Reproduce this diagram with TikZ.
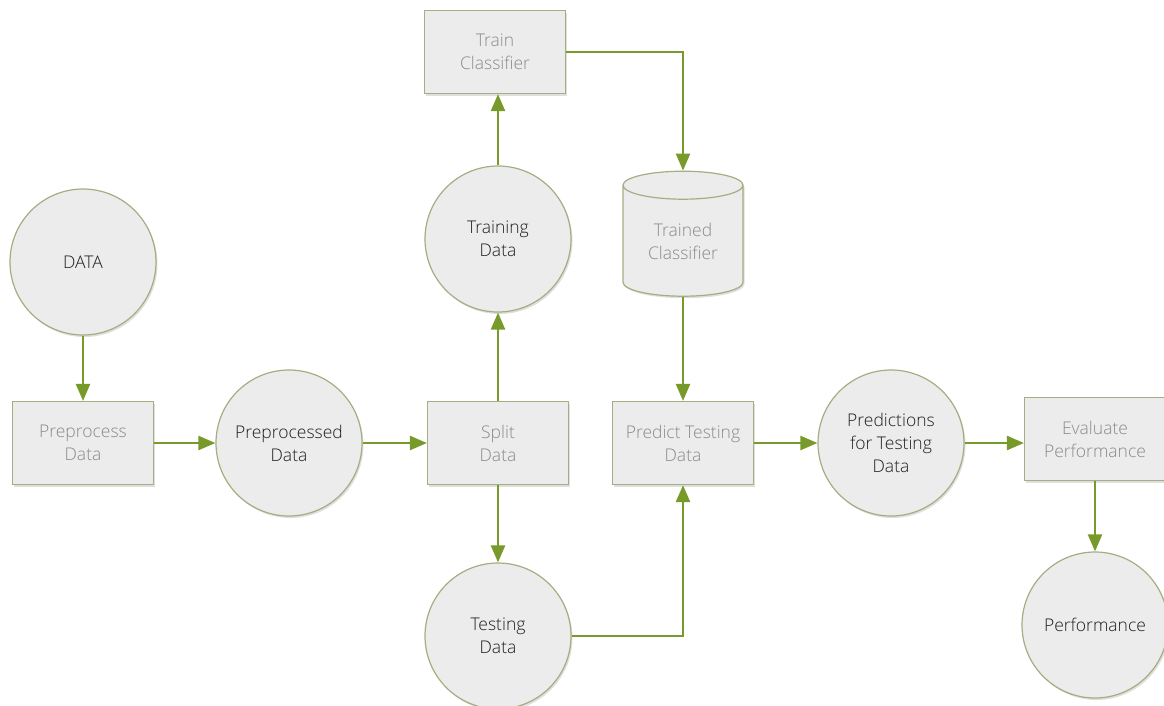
\documentclass[tikz,border=0pt]{standalone}
\usepackage{fontspec}
\setmainfont{Open Sans}[UprightFont={* Light}]
\usetikzlibrary{arrows.meta,shapes.geometric,shadows,patterns}
\definecolor{olive}{HTML}{789A2A}
\definecolor{edge}{HTML}{A4AE82}
\definecolor{boxfill}{HTML}{ECECEC}
\definecolor{boxtext}{HTML}{8A8A8A}
\definecolor{circtext}{HTML}{1E1E1E}
\begin{document}
\begin{tikzpicture}[x=1pt,y=-1pt,
  every node/.style={font=\fontsize{17.5}{23}\selectfont, align=center, inner sep=0pt},
  shade/.style={drop shadow={shadow xshift=1.5pt,shadow yshift=-2pt,opacity=0.25,fill=gray}},
  proc/.style={rectangle, draw=edge, line width=1.2pt, fill=boxfill, text=boxtext,
    minimum width=141pt, minimum height=83pt, shade},
  store/.style={circle, draw=edge, line width=1.2pt, fill=boxfill, text=circtext,
    minimum size=146pt, shade},
  db/.style={cylinder, shape border rotate=90, aspect=0.4, draw=edge, line width=1.2pt,
    fill=boxfill, text=boxtext, minimum width=120pt, minimum height=125pt, shade},
  flow/.style={draw=olive, line width=2.4pt, -{Triangle[length=17pt,width=14pt]}}
]
\useasboundingbox (0,0) rectangle (1164,705);
\node[store] (data) at (83,262) {DATA};
\node[proc] (prep) at (83,443) {Preprocess\\Data};
\node[store] (prepd) at (289,443) {Preprocessed\\Data};
\node[proc] (split) at (498,443) {Split\\Data};
\node[store] (train) at (498,239) {Training\\Data};
\node[proc] (trainc) at (495,52) {Train\\Classifier};
\node[db] (model) at (683,241) {Trained\\Classifier};
\node[proc] (pred) at (683,443) {Predict Testing\\Data};
\node[store] (test) at (498,636) {Testing\\Data};
\node[store] (preds) at (891,443) {Predictions\\for Testing\\Data};
\node[proc] (eval) at (1095,439) {Evaluate\\Performance};
\node[store] (perf) at (1095,625) {Performance};

\draw[flow] (data) -- (prep);
\draw[flow] (prep) -- (prepd);
\draw[flow] (prepd) -- (split);
\draw[flow] (split) -- (train);
\draw[flow] (train) -- (train.north |- trainc.south);
\draw[flow] (trainc.east) -| (model.north);
\draw[flow] (model) -- (pred);
\draw[flow] (split) -- (test);
\draw[flow] (test.east) -| (pred.south);
\draw[flow] (pred) -- (preds);
\draw[flow] (preds) -- (preds.east -| eval.west);
\draw[flow] (eval) -- (perf);
\end{tikzpicture}
\end{document}
